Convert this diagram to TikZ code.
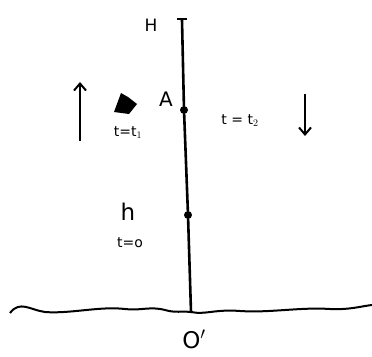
\documentclass[tikz,border=0pt]{standalone}
\usepackage{fontspec}
\setmainfont{DejaVu Sans}
\usetikzlibrary{arrows.meta}
\tikzset{
  pt/.style={circle,fill=black,inner sep=0pt,minimum size=8pt},
  lab/.style={inner sep=1pt,font=\fontsize{17}{19}\selectfont},
  big/.style={inner sep=1pt,font=\fontsize{23}{25}\selectfont},
  small/.style={inner sep=1pt,font=\fontsize{14}{16}\selectfont},
  ln/.style={line width=2.6pt,line cap=round},
  arr/.style={line width=2pt,-{Straight Barb[length=7pt,width=12pt]}},
}
\begin{document}
\begin{tikzpicture}[x=1pt,y=-1pt]
\useasboundingbox (0,0) rectangle (372,356);
% points
\coordinate (top) at (182,20);
\node[pt] (A) at (184,110) {};
\node[pt] (B) at (188,215) {};
\coordinate (O) at (191,312);
% main vertical line
\draw[ln] (top) -- (A) -- (B) -- (O);
\draw[line width=2.2pt] (177,19) -- (187,19);
% ground
\draw[line width=2pt] (10,313) .. controls (20,300) and (30,310) .. (45,312)
  .. controls (70,314) and (100,306) .. (125,309)
  .. controls (140,311) and (150,306) .. (165,310)
  .. controls (175,313) and (182,311) .. (O)
  .. controls (205,315) and (215,309) .. (240,311)
  .. controls (270,313) and (300,307) .. (330,309)
  .. controls (350,310) and (362,306) .. (372,305);
% labels
\node[lab] (H) at (151,25) {H};
\node[lab,font=\fontsize{20}{22}\selectfont] (Alab) at (166,99) {A};
\node[big] (hl) at (128,212) {h};
\node[small] (t0) at (130,243) {t=o};
\node[small] (t1) at (128,133) {t=t$_1$};
\node[small] (t2) at (240,121) {t = t$_2$};
\node[big] (Ol) at (194,339) {O$'$};
% blob
\fill (114,112) -- (121,93) -- (128,97) -- (137,104) -- (129,114) -- cycle;
% arrows
\coordinate (u1) at (80,141);
\coordinate (u2) at (80,82);
\draw[arr] (u1) -- (u2);
\coordinate (d1) at (305,94);
\coordinate (d2) at (305,136);
\draw[arr] (d1) -- (d2);
\end{tikzpicture}
\end{document}
